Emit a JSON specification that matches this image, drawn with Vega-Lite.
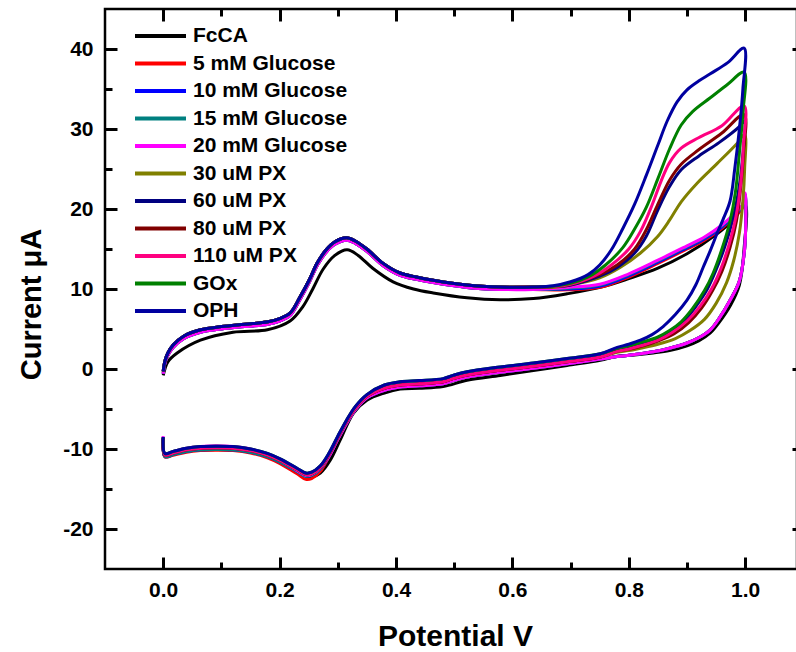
{
"$schema":"https://vega.github.io/schema/vega-lite/v6.json",
"width":692,"height":560,
"autosize":{"type":"none"},
"padding":{"left":105,"top":9,"right":0,"bottom":83},
"background":"white",
"config":{"view":{"stroke":"black","strokeWidth":2.5},
"axis":{"grid":false,"domainColor":"black","domainWidth":2.5,"tickColor":"black","tickWidth":3,"labelFont":"Liberation Sans","labelFontWeight":"bold","labelFontSize":21,"labelColor":"black","titleFont":"Liberation Sans","titleFontWeight":"bold","titleColor":"black"}},
"data":{"values":[
{"s":"FcCA","x":0,"y":-0.8},{"s":"FcCA","x":0.003,"y":0.0},{"s":"FcCA","x":0.008,"y":0.9},{"s":"FcCA","x":0.024,"y":2.0},{"s":"FcCA","x":0.064,"y":3.6},{"s":"FcCA","x":0.12,"y":4.6},{"s":"FcCA","x":0.179,"y":4.9},{"s":"FcCA","x":0.218,"y":6.0},{"s":"FcCA","x":0.24,"y":7.8},{"s":"FcCA","x":0.257,"y":10.0},{"s":"FcCA","x":0.275,"y":12.5},{"s":"FcCA","x":0.295,"y":14.2},{"s":"FcCA","x":0.316,"y":14.9},{"s":"FcCA","x":0.335,"y":14.2},{"s":"FcCA","x":0.36,"y":12.6},{"s":"FcCA","x":0.395,"y":10.9},{"s":"FcCA","x":0.43,"y":10.0},{"s":"FcCA","x":0.464,"y":9.5},{"s":"FcCA","x":0.522,"y":8.9},{"s":"FcCA","x":0.579,"y":8.65},{"s":"FcCA","x":0.636,"y":8.8},{"s":"FcCA","x":0.694,"y":9.4},{"s":"FcCA","x":0.751,"y":10.2},{"s":"FcCA","x":0.8,"y":11.3},{"s":"FcCA","x":0.85,"y":12.6},{"s":"FcCA","x":0.9,"y":14.4},{"s":"FcCA","x":0.95,"y":16.8},{"s":"FcCA","x":0.98,"y":18.7},{"s":"FcCA","x":1.0,"y":20.5},
{"s":"FcCA","x":0.998,"y":15},{"s":"FcCA","x":0.99,"y":10.5},{"s":"FcCA","x":0.975,"y":8.0},{"s":"FcCA","x":0.955,"y":5.8},{"s":"FcCA","x":0.94,"y":4.5},{"s":"FcCA","x":0.92,"y":3.5},{"s":"FcCA","x":0.9,"y":2.9},{"s":"FcCA","x":0.87,"y":2.3},{"s":"FcCA","x":0.842,"y":2.0},{"s":"FcCA","x":0.81,"y":1.75},{"s":"FcCA","x":0.78,"y":1.6},{"s":"FcCA","x":0.751,"y":1.1},{"s":"FcCA","x":0.694,"y":0.45},{"s":"FcCA","x":0.636,"y":-0.2},{"s":"FcCA","x":0.579,"y":-0.8},{"s":"FcCA","x":0.522,"y":-1.4},{"s":"FcCA","x":0.481,"y":-2.2},{"s":"FcCA","x":0.44,"y":-2.4},{"s":"FcCA","x":0.407,"y":-2.5},{"s":"FcCA","x":0.38,"y":-3.0},{"s":"FcCA","x":0.35,"y":-3.9},{"s":"FcCA","x":0.327,"y":-5.5},{"s":"FcCA","x":0.304,"y":-8.9},{"s":"FcCA","x":0.287,"y":-11.4},{"s":"FcCA","x":0.27,"y":-13.0},{"s":"FcCA","x":0.255,"y":-13.5},{"s":"FcCA","x":0.245,"y":-13.4},{"s":"FcCA","x":0.23,"y":-12.7},{"s":"FcCA","x":0.2,"y":-11.4},{"s":"FcCA","x":0.179,"y":-10.8},{"s":"FcCA","x":0.15,"y":-10.3},{"s":"FcCA","x":0.12,"y":-10.0},{"s":"FcCA","x":0.09,"y":-9.95},{"s":"FcCA","x":0.064,"y":-10.0},{"s":"FcCA","x":0.04,"y":-10.2},{"s":"FcCA","x":0.017,"y":-10.6},{"s":"FcCA","x":0.003,"y":-10.9},{"s":"FcCA","x":0,"y":-9.0},

{"s":"5 mM Glucose","x":0,"y":-0.6},{"s":"5 mM Glucose","x":0.003,"y":0.7},{"s":"5 mM Glucose","x":0.008,"y":1.7},{"s":"5 mM Glucose","x":0.017,"y":2.7},{"s":"5 mM Glucose","x":0.035,"y":3.8},{"s":"5 mM Glucose","x":0.064,"y":4.6},{"s":"5 mM Glucose","x":0.1,"y":5.0},{"s":"5 mM Glucose","x":0.14,"y":5.3},{"s":"5 mM Glucose","x":0.18,"y":5.6},{"s":"5 mM Glucose","x":0.2,"y":6.0},{"s":"5 mM Glucose","x":0.218,"y":6.7},{"s":"5 mM Glucose","x":0.235,"y":8.7},{"s":"5 mM Glucose","x":0.25,"y":10.7},{"s":"5 mM Glucose","x":0.265,"y":13.0},{"s":"5 mM Glucose","x":0.28,"y":14.6},{"s":"5 mM Glucose","x":0.295,"y":15.6},{"s":"5 mM Glucose","x":0.315,"y":16.1},{"s":"5 mM Glucose","x":0.33,"y":15.7},{"s":"5 mM Glucose","x":0.35,"y":14.7},{"s":"5 mM Glucose","x":0.378,"y":12.9},{"s":"5 mM Glucose","x":0.407,"y":11.7},{"s":"5 mM Glucose","x":0.435,"y":11.2},{"s":"5 mM Glucose","x":0.464,"y":10.8},{"s":"5 mM Glucose","x":0.522,"y":10.2},{"s":"5 mM Glucose","x":0.579,"y":9.95},{"s":"5 mM Glucose","x":0.636,"y":9.95},
{"s":"5 mM Glucose","x":0.694,"y":9.9},{"s":"5 mM Glucose","x":0.75,"y":10.2},{"s":"5 mM Glucose","x":0.8,"y":11.5},{"s":"5 mM Glucose","x":0.85,"y":13.2},{"s":"5 mM Glucose","x":0.9,"y":15.0},{"s":"5 mM Glucose","x":0.93,"y":16.1},{"s":"5 mM Glucose","x":0.96,"y":17.6},{"s":"5 mM Glucose","x":0.98,"y":18.9},{"s":"5 mM Glucose","x":0.995,"y":20.1},{"s":"5 mM Glucose","x":1.0,"y":21.5},
{"s":"5 mM Glucose","x":1.001,"y":19},{"s":"5 mM Glucose","x":0.999,"y":15},{"s":"5 mM Glucose","x":0.99,"y":11},{"s":"5 mM Glucose","x":0.974,"y":8.6},{"s":"5 mM Glucose","x":0.955,"y":6.3},{"s":"5 mM Glucose","x":0.94,"y":4.9},{"s":"5 mM Glucose","x":0.92,"y":3.9},{"s":"5 mM Glucose","x":0.9,"y":3.25},{"s":"5 mM Glucose","x":0.87,"y":2.6},{"s":"5 mM Glucose","x":0.842,"y":2.15},{"s":"5 mM Glucose","x":0.81,"y":1.8},{"s":"5 mM Glucose","x":0.78,"y":1.55},
{"s":"5 mM Glucose","x":0.751,"y":1.25},{"s":"5 mM Glucose","x":0.694,"y":0.65},{"s":"5 mM Glucose","x":0.636,"y":0.1},{"s":"5 mM Glucose","x":0.579,"y":-0.4},{"s":"5 mM Glucose","x":0.522,"y":-1.0},{"s":"5 mM Glucose","x":0.498,"y":-1.45},{"s":"5 mM Glucose","x":0.481,"y":-1.85},{"s":"5 mM Glucose","x":0.44,"y":-2.1},{"s":"5 mM Glucose","x":0.407,"y":-2.25},{"s":"5 mM Glucose","x":0.38,"y":-2.65},{"s":"5 mM Glucose","x":0.35,"y":-3.6},{"s":"5 mM Glucose","x":0.33,"y":-5.1},{"s":"5 mM Glucose","x":0.315,"y":-6.8},{"s":"5 mM Glucose","x":0.3,"y":-8.8},{"s":"5 mM Glucose","x":0.285,"y":-10.9},{"s":"5 mM Glucose","x":0.27,"y":-12.8},{"s":"5 mM Glucose","x":0.255,"y":-13.7},{"s":"5 mM Glucose","x":0.245,"y":-13.8},{"s":"5 mM Glucose","x":0.23,"y":-13.1},{"s":"5 mM Glucose","x":0.2,"y":-11.8},{"s":"5 mM Glucose","x":0.179,"y":-11.1},{"s":"5 mM Glucose","x":0.15,"y":-10.5},{"s":"5 mM Glucose","x":0.12,"y":-10.2},{"s":"5 mM Glucose","x":0.09,"y":-10.15},{"s":"5 mM Glucose","x":0.064,"y":-10.2},{"s":"5 mM Glucose","x":0.04,"y":-10.4},{"s":"5 mM Glucose","x":0.017,"y":-10.8},{"s":"5 mM Glucose","x":0.003,"y":-11.0},{"s":"5 mM Glucose","x":0,"y":-8.8},

{"s":"10 mM Glucose","x":0,"y":-0.6},{"s":"10 mM Glucose","x":0.003,"y":0.7},{"s":"10 mM Glucose","x":0.008,"y":1.7},{"s":"10 mM Glucose","x":0.017,"y":2.7},{"s":"10 mM Glucose","x":0.035,"y":3.8},{"s":"10 mM Glucose","x":0.064,"y":4.6},{"s":"10 mM Glucose","x":0.1,"y":5.0},{"s":"10 mM Glucose","x":0.14,"y":5.3},{"s":"10 mM Glucose","x":0.18,"y":5.6},{"s":"10 mM Glucose","x":0.2,"y":6.0},{"s":"10 mM Glucose","x":0.218,"y":6.7},{"s":"10 mM Glucose","x":0.235,"y":8.7},{"s":"10 mM Glucose","x":0.25,"y":10.7},{"s":"10 mM Glucose","x":0.265,"y":13.0},{"s":"10 mM Glucose","x":0.28,"y":14.6},{"s":"10 mM Glucose","x":0.295,"y":15.6},{"s":"10 mM Glucose","x":0.315,"y":16.1},{"s":"10 mM Glucose","x":0.33,"y":15.7},{"s":"10 mM Glucose","x":0.35,"y":14.7},{"s":"10 mM Glucose","x":0.378,"y":12.9},{"s":"10 mM Glucose","x":0.407,"y":11.7},{"s":"10 mM Glucose","x":0.435,"y":11.2},{"s":"10 mM Glucose","x":0.464,"y":10.8},{"s":"10 mM Glucose","x":0.522,"y":10.2},{"s":"10 mM Glucose","x":0.579,"y":9.95},{"s":"10 mM Glucose","x":0.636,"y":9.95},
{"s":"10 mM Glucose","x":0.694,"y":10.0},{"s":"10 mM Glucose","x":0.75,"y":10.35},{"s":"10 mM Glucose","x":0.8,"y":11.65},{"s":"10 mM Glucose","x":0.85,"y":13.35},{"s":"10 mM Glucose","x":0.9,"y":15.15},{"s":"10 mM Glucose","x":0.93,"y":16.25},{"s":"10 mM Glucose","x":0.96,"y":17.75},{"s":"10 mM Glucose","x":0.98,"y":19.05},{"s":"10 mM Glucose","x":0.995,"y":20.25},{"s":"10 mM Glucose","x":1.0,"y":21.7},
{"s":"10 mM Glucose","x":1.001,"y":19},{"s":"10 mM Glucose","x":0.999,"y":15},{"s":"10 mM Glucose","x":0.99,"y":11},{"s":"10 mM Glucose","x":0.974,"y":8.6},{"s":"10 mM Glucose","x":0.955,"y":6.3},{"s":"10 mM Glucose","x":0.94,"y":4.9},{"s":"10 mM Glucose","x":0.92,"y":3.9},{"s":"10 mM Glucose","x":0.9,"y":3.25},{"s":"10 mM Glucose","x":0.87,"y":2.6},{"s":"10 mM Glucose","x":0.842,"y":2.15},{"s":"10 mM Glucose","x":0.81,"y":1.8},{"s":"10 mM Glucose","x":0.78,"y":1.55},
{"s":"10 mM Glucose","x":0.751,"y":1.25},{"s":"10 mM Glucose","x":0.694,"y":0.65},{"s":"10 mM Glucose","x":0.636,"y":0.1},{"s":"10 mM Glucose","x":0.579,"y":-0.4},{"s":"10 mM Glucose","x":0.522,"y":-1.0},{"s":"10 mM Glucose","x":0.498,"y":-1.45},{"s":"10 mM Glucose","x":0.481,"y":-1.85},{"s":"10 mM Glucose","x":0.44,"y":-2.1},{"s":"10 mM Glucose","x":0.407,"y":-2.25},{"s":"10 mM Glucose","x":0.38,"y":-2.65},{"s":"10 mM Glucose","x":0.35,"y":-3.6},{"s":"10 mM Glucose","x":0.33,"y":-5.1},{"s":"10 mM Glucose","x":0.315,"y":-6.8},{"s":"10 mM Glucose","x":0.3,"y":-8.8},{"s":"10 mM Glucose","x":0.285,"y":-10.9},{"s":"10 mM Glucose","x":0.27,"y":-12.5},{"s":"10 mM Glucose","x":0.255,"y":-13.3},{"s":"10 mM Glucose","x":0.245,"y":-13.4},{"s":"10 mM Glucose","x":0.23,"y":-12.8},{"s":"10 mM Glucose","x":0.2,"y":-11.6},{"s":"10 mM Glucose","x":0.179,"y":-10.95},{"s":"10 mM Glucose","x":0.15,"y":-10.4},{"s":"10 mM Glucose","x":0.12,"y":-10.1},{"s":"10 mM Glucose","x":0.09,"y":-10.05},{"s":"10 mM Glucose","x":0.064,"y":-10.1},{"s":"10 mM Glucose","x":0.04,"y":-10.3},{"s":"10 mM Glucose","x":0.017,"y":-10.7},{"s":"10 mM Glucose","x":0.003,"y":-10.95},{"s":"10 mM Glucose","x":0,"y":-8.7},

{"s":"15 mM Glucose","x":0,"y":-0.6},{"s":"15 mM Glucose","x":0.003,"y":0.7},{"s":"15 mM Glucose","x":0.008,"y":1.7},{"s":"15 mM Glucose","x":0.017,"y":2.7},{"s":"15 mM Glucose","x":0.035,"y":3.8},{"s":"15 mM Glucose","x":0.064,"y":4.6},{"s":"15 mM Glucose","x":0.1,"y":5.0},{"s":"15 mM Glucose","x":0.14,"y":5.3},{"s":"15 mM Glucose","x":0.18,"y":5.6},{"s":"15 mM Glucose","x":0.2,"y":6.0},{"s":"15 mM Glucose","x":0.218,"y":6.7},{"s":"15 mM Glucose","x":0.235,"y":8.7},{"s":"15 mM Glucose","x":0.25,"y":10.7},{"s":"15 mM Glucose","x":0.265,"y":13.0},{"s":"15 mM Glucose","x":0.28,"y":14.6},{"s":"15 mM Glucose","x":0.295,"y":15.6},{"s":"15 mM Glucose","x":0.315,"y":16.1},{"s":"15 mM Glucose","x":0.33,"y":15.7},{"s":"15 mM Glucose","x":0.35,"y":14.7},{"s":"15 mM Glucose","x":0.378,"y":12.9},{"s":"15 mM Glucose","x":0.407,"y":11.7},{"s":"15 mM Glucose","x":0.435,"y":11.2},{"s":"15 mM Glucose","x":0.464,"y":10.8},{"s":"15 mM Glucose","x":0.522,"y":10.2},{"s":"15 mM Glucose","x":0.579,"y":9.95},{"s":"15 mM Glucose","x":0.636,"y":9.95},
{"s":"15 mM Glucose","x":0.694,"y":10.1},{"s":"15 mM Glucose","x":0.75,"y":10.5},{"s":"15 mM Glucose","x":0.8,"y":11.8},{"s":"15 mM Glucose","x":0.85,"y":13.5},{"s":"15 mM Glucose","x":0.9,"y":15.3},{"s":"15 mM Glucose","x":0.93,"y":16.4},{"s":"15 mM Glucose","x":0.96,"y":17.9},{"s":"15 mM Glucose","x":0.98,"y":19.2},{"s":"15 mM Glucose","x":0.995,"y":20.4},{"s":"15 mM Glucose","x":1.0,"y":21.8},
{"s":"15 mM Glucose","x":1.001,"y":19},{"s":"15 mM Glucose","x":0.999,"y":15},{"s":"15 mM Glucose","x":0.99,"y":11},{"s":"15 mM Glucose","x":0.974,"y":8.6},{"s":"15 mM Glucose","x":0.955,"y":6.3},{"s":"15 mM Glucose","x":0.94,"y":4.9},{"s":"15 mM Glucose","x":0.92,"y":3.9},{"s":"15 mM Glucose","x":0.9,"y":3.25},{"s":"15 mM Glucose","x":0.87,"y":2.6},{"s":"15 mM Glucose","x":0.842,"y":2.15},{"s":"15 mM Glucose","x":0.81,"y":1.8},{"s":"15 mM Glucose","x":0.78,"y":1.55},
{"s":"15 mM Glucose","x":0.751,"y":1.25},{"s":"15 mM Glucose","x":0.694,"y":0.65},{"s":"15 mM Glucose","x":0.636,"y":0.1},{"s":"15 mM Glucose","x":0.579,"y":-0.4},{"s":"15 mM Glucose","x":0.522,"y":-1.0},{"s":"15 mM Glucose","x":0.498,"y":-1.45},{"s":"15 mM Glucose","x":0.481,"y":-1.85},{"s":"15 mM Glucose","x":0.44,"y":-2.1},{"s":"15 mM Glucose","x":0.407,"y":-2.25},{"s":"15 mM Glucose","x":0.38,"y":-2.65},{"s":"15 mM Glucose","x":0.35,"y":-3.6},{"s":"15 mM Glucose","x":0.33,"y":-5.1},{"s":"15 mM Glucose","x":0.315,"y":-6.8},{"s":"15 mM Glucose","x":0.3,"y":-8.8},{"s":"15 mM Glucose","x":0.285,"y":-10.9},{"s":"15 mM Glucose","x":0.27,"y":-12.5},{"s":"15 mM Glucose","x":0.255,"y":-13.3},{"s":"15 mM Glucose","x":0.245,"y":-13.4},{"s":"15 mM Glucose","x":0.23,"y":-12.8},{"s":"15 mM Glucose","x":0.2,"y":-11.6},{"s":"15 mM Glucose","x":0.179,"y":-10.95},{"s":"15 mM Glucose","x":0.15,"y":-10.4},{"s":"15 mM Glucose","x":0.12,"y":-10.1},{"s":"15 mM Glucose","x":0.09,"y":-10.05},{"s":"15 mM Glucose","x":0.064,"y":-10.1},{"s":"15 mM Glucose","x":0.04,"y":-10.3},{"s":"15 mM Glucose","x":0.017,"y":-10.7},{"s":"15 mM Glucose","x":0.003,"y":-10.95},{"s":"15 mM Glucose","x":0,"y":-8.7},

{"s":"20 mM Glucose","x":0,"y":-0.6},{"s":"20 mM Glucose","x":0.003,"y":0.7},{"s":"20 mM Glucose","x":0.008,"y":1.7},{"s":"20 mM Glucose","x":0.017,"y":2.7},{"s":"20 mM Glucose","x":0.035,"y":3.8},{"s":"20 mM Glucose","x":0.064,"y":4.6},{"s":"20 mM Glucose","x":0.1,"y":5.0},{"s":"20 mM Glucose","x":0.14,"y":5.3},{"s":"20 mM Glucose","x":0.18,"y":5.6},{"s":"20 mM Glucose","x":0.2,"y":6.0},{"s":"20 mM Glucose","x":0.218,"y":6.7},{"s":"20 mM Glucose","x":0.235,"y":8.7},{"s":"20 mM Glucose","x":0.25,"y":10.7},{"s":"20 mM Glucose","x":0.265,"y":13.0},{"s":"20 mM Glucose","x":0.28,"y":14.6},{"s":"20 mM Glucose","x":0.295,"y":15.6},{"s":"20 mM Glucose","x":0.315,"y":16.1},{"s":"20 mM Glucose","x":0.33,"y":15.7},{"s":"20 mM Glucose","x":0.35,"y":14.7},{"s":"20 mM Glucose","x":0.378,"y":12.9},{"s":"20 mM Glucose","x":0.407,"y":11.7},{"s":"20 mM Glucose","x":0.435,"y":11.2},{"s":"20 mM Glucose","x":0.464,"y":10.8},{"s":"20 mM Glucose","x":0.522,"y":10.2},{"s":"20 mM Glucose","x":0.579,"y":9.95},{"s":"20 mM Glucose","x":0.636,"y":9.95},
{"s":"20 mM Glucose","x":0.694,"y":10.2},{"s":"20 mM Glucose","x":0.75,"y":10.6},{"s":"20 mM Glucose","x":0.8,"y":11.9},{"s":"20 mM Glucose","x":0.85,"y":13.6},{"s":"20 mM Glucose","x":0.9,"y":15.4},{"s":"20 mM Glucose","x":0.93,"y":16.5},{"s":"20 mM Glucose","x":0.96,"y":18.0},{"s":"20 mM Glucose","x":0.98,"y":19.3},{"s":"20 mM Glucose","x":0.995,"y":20.5},{"s":"20 mM Glucose","x":1.0,"y":22.0},
{"s":"20 mM Glucose","x":1.001,"y":19},{"s":"20 mM Glucose","x":0.999,"y":15},{"s":"20 mM Glucose","x":0.99,"y":11},{"s":"20 mM Glucose","x":0.974,"y":8.6},{"s":"20 mM Glucose","x":0.955,"y":6.3},{"s":"20 mM Glucose","x":0.94,"y":4.9},{"s":"20 mM Glucose","x":0.92,"y":3.9},{"s":"20 mM Glucose","x":0.9,"y":3.25},{"s":"20 mM Glucose","x":0.87,"y":2.6},{"s":"20 mM Glucose","x":0.842,"y":2.15},{"s":"20 mM Glucose","x":0.81,"y":1.8},{"s":"20 mM Glucose","x":0.78,"y":1.55},
{"s":"20 mM Glucose","x":0.751,"y":1.25},{"s":"20 mM Glucose","x":0.694,"y":0.65},{"s":"20 mM Glucose","x":0.636,"y":0.1},{"s":"20 mM Glucose","x":0.579,"y":-0.4},{"s":"20 mM Glucose","x":0.522,"y":-1.0},{"s":"20 mM Glucose","x":0.498,"y":-1.45},{"s":"20 mM Glucose","x":0.481,"y":-1.85},{"s":"20 mM Glucose","x":0.44,"y":-2.1},{"s":"20 mM Glucose","x":0.407,"y":-2.25},{"s":"20 mM Glucose","x":0.38,"y":-2.65},{"s":"20 mM Glucose","x":0.35,"y":-3.6},{"s":"20 mM Glucose","x":0.33,"y":-5.1},{"s":"20 mM Glucose","x":0.315,"y":-6.8},{"s":"20 mM Glucose","x":0.3,"y":-8.8},{"s":"20 mM Glucose","x":0.285,"y":-10.9},{"s":"20 mM Glucose","x":0.27,"y":-12.4},{"s":"20 mM Glucose","x":0.255,"y":-13.2},{"s":"20 mM Glucose","x":0.245,"y":-13.3},{"s":"20 mM Glucose","x":0.23,"y":-12.7},{"s":"20 mM Glucose","x":0.2,"y":-11.4},{"s":"20 mM Glucose","x":0.179,"y":-10.7},{"s":"20 mM Glucose","x":0.15,"y":-10.0},{"s":"20 mM Glucose","x":0.12,"y":-9.7},{"s":"20 mM Glucose","x":0.09,"y":-9.6},{"s":"20 mM Glucose","x":0.064,"y":-9.7},{"s":"20 mM Glucose","x":0.04,"y":-9.9},{"s":"20 mM Glucose","x":0.017,"y":-10.3},{"s":"20 mM Glucose","x":0.003,"y":-10.6},{"s":"20 mM Glucose","x":0,"y":-8.4},

{"s":"30 uM PX","x":0,"y":-0.3},{"s":"30 uM PX","x":0.003,"y":1.0},{"s":"30 uM PX","x":0.008,"y":2.0},{"s":"30 uM PX","x":0.017,"y":3.0},{"s":"30 uM PX","x":0.035,"y":4.1},{"s":"30 uM PX","x":0.064,"y":4.9},{"s":"30 uM PX","x":0.1,"y":5.3},{"s":"30 uM PX","x":0.14,"y":5.6},{"s":"30 uM PX","x":0.18,"y":5.9},{"s":"30 uM PX","x":0.2,"y":6.3},{"s":"30 uM PX","x":0.218,"y":7.0},{"s":"30 uM PX","x":0.235,"y":9.0},{"s":"30 uM PX","x":0.25,"y":11.0},{"s":"30 uM PX","x":0.265,"y":13.3},{"s":"30 uM PX","x":0.28,"y":14.9},{"s":"30 uM PX","x":0.295,"y":15.9},{"s":"30 uM PX","x":0.315,"y":16.4},{"s":"30 uM PX","x":0.33,"y":16.0},{"s":"30 uM PX","x":0.35,"y":15.0},{"s":"30 uM PX","x":0.378,"y":13.2},{"s":"30 uM PX","x":0.407,"y":12.0},{"s":"30 uM PX","x":0.435,"y":11.5},{"s":"30 uM PX","x":0.464,"y":11.1},{"s":"30 uM PX","x":0.522,"y":10.5},{"s":"30 uM PX","x":0.579,"y":10.25},{"s":"30 uM PX","x":0.636,"y":10.25},
{"s":"30 uM PX","x":0.67,"y":10.2},{"s":"30 uM PX","x":0.7,"y":10.5},{"s":"30 uM PX","x":0.75,"y":11.4},{"s":"30 uM PX","x":0.785,"y":12.7},{"s":"30 uM PX","x":0.82,"y":14.5},{"s":"30 uM PX","x":0.85,"y":16.6},{"s":"30 uM PX","x":0.87,"y":18.6},{"s":"30 uM PX","x":0.89,"y":20.9},{"s":"30 uM PX","x":0.917,"y":23.2},{"s":"30 uM PX","x":0.952,"y":25.7},{"s":"30 uM PX","x":0.986,"y":28.2},{"s":"30 uM PX","x":0.999,"y":29.3},
{"s":"30 uM PX","x":0.999,"y":25},{"s":"30 uM PX","x":0.996,"y":21},{"s":"30 uM PX","x":0.99,"y":17},{"s":"30 uM PX","x":0.98,"y":13.5},{"s":"30 uM PX","x":0.968,"y":10.8},{"s":"30 uM PX","x":0.95,"y":8.2},{"s":"30 uM PX","x":0.93,"y":6.2},{"s":"30 uM PX","x":0.905,"y":4.8},{"s":"30 uM PX","x":0.88,"y":3.8},{"s":"30 uM PX","x":0.85,"y":3.1},{"s":"30 uM PX","x":0.82,"y":2.6},{"s":"30 uM PX","x":0.8,"y":2.3},{"s":"30 uM PX","x":0.78,"y":2.1},
{"s":"30 uM PX","x":0.751,"y":1.5},{"s":"30 uM PX","x":0.694,"y":0.9},{"s":"30 uM PX","x":0.636,"y":0.35},{"s":"30 uM PX","x":0.579,"y":-0.15},{"s":"30 uM PX","x":0.522,"y":-0.75},{"s":"30 uM PX","x":0.498,"y":-1.2},{"s":"30 uM PX","x":0.481,"y":-1.6},{"s":"30 uM PX","x":0.44,"y":-1.85},{"s":"30 uM PX","x":0.407,"y":-2.0},{"s":"30 uM PX","x":0.38,"y":-2.4},{"s":"30 uM PX","x":0.35,"y":-3.4},{"s":"30 uM PX","x":0.33,"y":-4.9},{"s":"30 uM PX","x":0.315,"y":-6.6},{"s":"30 uM PX","x":0.3,"y":-8.6},{"s":"30 uM PX","x":0.285,"y":-10.7},{"s":"30 uM PX","x":0.27,"y":-12.3},{"s":"30 uM PX","x":0.255,"y":-13.1},{"s":"30 uM PX","x":0.245,"y":-13.2},{"s":"30 uM PX","x":0.23,"y":-12.6},{"s":"30 uM PX","x":0.2,"y":-11.4},{"s":"30 uM PX","x":0.179,"y":-10.75},{"s":"30 uM PX","x":0.15,"y":-10.2},{"s":"30 uM PX","x":0.12,"y":-9.9},{"s":"30 uM PX","x":0.09,"y":-9.85},{"s":"30 uM PX","x":0.064,"y":-9.9},{"s":"30 uM PX","x":0.04,"y":-10.1},{"s":"30 uM PX","x":0.017,"y":-10.5},{"s":"30 uM PX","x":0.003,"y":-10.75},{"s":"30 uM PX","x":0,"y":-8.6},

{"s":"60 uM PX","x":0,"y":-0.3},{"s":"60 uM PX","x":0.003,"y":1.0},{"s":"60 uM PX","x":0.008,"y":2.0},{"s":"60 uM PX","x":0.017,"y":3.0},{"s":"60 uM PX","x":0.035,"y":4.1},{"s":"60 uM PX","x":0.064,"y":4.9},{"s":"60 uM PX","x":0.1,"y":5.3},{"s":"60 uM PX","x":0.14,"y":5.6},{"s":"60 uM PX","x":0.18,"y":5.9},{"s":"60 uM PX","x":0.2,"y":6.3},{"s":"60 uM PX","x":0.218,"y":7.0},{"s":"60 uM PX","x":0.235,"y":9.0},{"s":"60 uM PX","x":0.25,"y":11.0},{"s":"60 uM PX","x":0.265,"y":13.3},{"s":"60 uM PX","x":0.28,"y":14.9},{"s":"60 uM PX","x":0.295,"y":15.9},{"s":"60 uM PX","x":0.315,"y":16.4},{"s":"60 uM PX","x":0.33,"y":16.0},{"s":"60 uM PX","x":0.35,"y":15.0},{"s":"60 uM PX","x":0.378,"y":13.2},{"s":"60 uM PX","x":0.407,"y":12.0},{"s":"60 uM PX","x":0.435,"y":11.5},{"s":"60 uM PX","x":0.464,"y":11.1},{"s":"60 uM PX","x":0.522,"y":10.5},{"s":"60 uM PX","x":0.579,"y":10.25},{"s":"60 uM PX","x":0.636,"y":10.25},
{"s":"60 uM PX","x":0.67,"y":10.3},{"s":"60 uM PX","x":0.7,"y":10.5},{"s":"60 uM PX","x":0.75,"y":11.6},{"s":"60 uM PX","x":0.78,"y":12.7},{"s":"60 uM PX","x":0.81,"y":14.5},{"s":"60 uM PX","x":0.83,"y":16.6},{"s":"60 uM PX","x":0.85,"y":19.9},{"s":"60 uM PX","x":0.87,"y":22.8},{"s":"60 uM PX","x":0.89,"y":24.9},{"s":"60 uM PX","x":0.92,"y":26.6},{"s":"60 uM PX","x":0.955,"y":28.3},{"s":"60 uM PX","x":0.99,"y":30.3},{"s":"60 uM PX","x":0.998,"y":31},
{"s":"60 uM PX","x":0.995,"y":26},{"s":"60 uM PX","x":0.988,"y":22},{"s":"60 uM PX","x":0.978,"y":18.5},{"s":"60 uM PX","x":0.965,"y":15.3},{"s":"60 uM PX","x":0.95,"y":12.4},{"s":"60 uM PX","x":0.935,"y":10.0},{"s":"60 uM PX","x":0.915,"y":7.8},{"s":"60 uM PX","x":0.895,"y":6.0},{"s":"60 uM PX","x":0.87,"y":4.6},{"s":"60 uM PX","x":0.85,"y":3.8},{"s":"60 uM PX","x":0.82,"y":3.0},{"s":"60 uM PX","x":0.8,"y":2.6},{"s":"60 uM PX","x":0.78,"y":2.3},
{"s":"60 uM PX","x":0.751,"y":1.5},{"s":"60 uM PX","x":0.694,"y":0.9},{"s":"60 uM PX","x":0.636,"y":0.35},{"s":"60 uM PX","x":0.579,"y":-0.15},{"s":"60 uM PX","x":0.522,"y":-0.75},{"s":"60 uM PX","x":0.498,"y":-1.2},{"s":"60 uM PX","x":0.481,"y":-1.6},{"s":"60 uM PX","x":0.44,"y":-1.85},{"s":"60 uM PX","x":0.407,"y":-2.0},{"s":"60 uM PX","x":0.38,"y":-2.4},{"s":"60 uM PX","x":0.35,"y":-3.4},{"s":"60 uM PX","x":0.33,"y":-4.9},{"s":"60 uM PX","x":0.315,"y":-6.6},{"s":"60 uM PX","x":0.3,"y":-8.6},{"s":"60 uM PX","x":0.285,"y":-10.7},{"s":"60 uM PX","x":0.27,"y":-12.3},{"s":"60 uM PX","x":0.255,"y":-13.1},{"s":"60 uM PX","x":0.245,"y":-13.2},{"s":"60 uM PX","x":0.23,"y":-12.6},{"s":"60 uM PX","x":0.2,"y":-11.4},{"s":"60 uM PX","x":0.179,"y":-10.75},{"s":"60 uM PX","x":0.15,"y":-10.2},{"s":"60 uM PX","x":0.12,"y":-9.9},{"s":"60 uM PX","x":0.09,"y":-9.85},{"s":"60 uM PX","x":0.064,"y":-9.9},{"s":"60 uM PX","x":0.04,"y":-10.1},{"s":"60 uM PX","x":0.017,"y":-10.5},{"s":"60 uM PX","x":0.003,"y":-10.75},{"s":"60 uM PX","x":0,"y":-8.6},

{"s":"80 uM PX","x":0,"y":-0.3},{"s":"80 uM PX","x":0.003,"y":1.0},{"s":"80 uM PX","x":0.008,"y":2.0},{"s":"80 uM PX","x":0.017,"y":3.0},{"s":"80 uM PX","x":0.035,"y":4.1},{"s":"80 uM PX","x":0.064,"y":4.9},{"s":"80 uM PX","x":0.1,"y":5.3},{"s":"80 uM PX","x":0.14,"y":5.6},{"s":"80 uM PX","x":0.18,"y":5.9},{"s":"80 uM PX","x":0.2,"y":6.3},{"s":"80 uM PX","x":0.218,"y":7.0},{"s":"80 uM PX","x":0.235,"y":9.0},{"s":"80 uM PX","x":0.25,"y":11.0},{"s":"80 uM PX","x":0.265,"y":13.3},{"s":"80 uM PX","x":0.28,"y":14.9},{"s":"80 uM PX","x":0.295,"y":15.9},{"s":"80 uM PX","x":0.315,"y":16.4},{"s":"80 uM PX","x":0.33,"y":16.0},{"s":"80 uM PX","x":0.35,"y":15.0},{"s":"80 uM PX","x":0.378,"y":13.2},{"s":"80 uM PX","x":0.407,"y":12.0},{"s":"80 uM PX","x":0.435,"y":11.5},{"s":"80 uM PX","x":0.464,"y":11.1},{"s":"80 uM PX","x":0.522,"y":10.5},{"s":"80 uM PX","x":0.579,"y":10.25},{"s":"80 uM PX","x":0.636,"y":10.25},
{"s":"80 uM PX","x":0.67,"y":10.3},{"s":"80 uM PX","x":0.7,"y":10.6},{"s":"80 uM PX","x":0.75,"y":11.8},{"s":"80 uM PX","x":0.78,"y":13.0},{"s":"80 uM PX","x":0.81,"y":15.0},{"s":"80 uM PX","x":0.83,"y":17.4},{"s":"80 uM PX","x":0.85,"y":20.6},{"s":"80 uM PX","x":0.87,"y":23.6},{"s":"80 uM PX","x":0.89,"y":25.6},{"s":"80 uM PX","x":0.92,"y":27.4},{"s":"80 uM PX","x":0.96,"y":29.5},{"s":"80 uM PX","x":0.998,"y":31.8},
{"s":"80 uM PX","x":0.997,"y":27},{"s":"80 uM PX","x":0.992,"y":22.5},{"s":"80 uM PX","x":0.985,"y":18.5},{"s":"80 uM PX","x":0.974,"y":15.2},{"s":"80 uM PX","x":0.96,"y":12.2},{"s":"80 uM PX","x":0.944,"y":9.8},{"s":"80 uM PX","x":0.925,"y":7.6},{"s":"80 uM PX","x":0.903,"y":5.8},{"s":"80 uM PX","x":0.878,"y":4.4},{"s":"80 uM PX","x":0.85,"y":3.5},{"s":"80 uM PX","x":0.82,"y":2.8},{"s":"80 uM PX","x":0.8,"y":2.45},{"s":"80 uM PX","x":0.78,"y":2.2},
{"s":"80 uM PX","x":0.751,"y":1.5},{"s":"80 uM PX","x":0.694,"y":0.9},{"s":"80 uM PX","x":0.636,"y":0.35},{"s":"80 uM PX","x":0.579,"y":-0.15},{"s":"80 uM PX","x":0.522,"y":-0.75},{"s":"80 uM PX","x":0.498,"y":-1.2},{"s":"80 uM PX","x":0.481,"y":-1.6},{"s":"80 uM PX","x":0.44,"y":-1.85},{"s":"80 uM PX","x":0.407,"y":-2.0},{"s":"80 uM PX","x":0.38,"y":-2.4},{"s":"80 uM PX","x":0.35,"y":-3.4},{"s":"80 uM PX","x":0.33,"y":-4.9},{"s":"80 uM PX","x":0.315,"y":-6.6},{"s":"80 uM PX","x":0.3,"y":-8.6},{"s":"80 uM PX","x":0.285,"y":-10.7},{"s":"80 uM PX","x":0.27,"y":-12.3},{"s":"80 uM PX","x":0.255,"y":-13.1},{"s":"80 uM PX","x":0.245,"y":-13.2},{"s":"80 uM PX","x":0.23,"y":-12.6},{"s":"80 uM PX","x":0.2,"y":-11.4},{"s":"80 uM PX","x":0.179,"y":-10.75},{"s":"80 uM PX","x":0.15,"y":-10.2},{"s":"80 uM PX","x":0.12,"y":-9.9},{"s":"80 uM PX","x":0.09,"y":-9.85},{"s":"80 uM PX","x":0.064,"y":-9.9},{"s":"80 uM PX","x":0.04,"y":-10.1},{"s":"80 uM PX","x":0.017,"y":-10.5},{"s":"80 uM PX","x":0.003,"y":-10.75},{"s":"80 uM PX","x":0,"y":-8.6},

{"s":"110 uM PX","x":0,"y":-0.3},{"s":"110 uM PX","x":0.003,"y":1.0},{"s":"110 uM PX","x":0.008,"y":2.0},{"s":"110 uM PX","x":0.017,"y":3.0},{"s":"110 uM PX","x":0.035,"y":4.1},{"s":"110 uM PX","x":0.064,"y":4.9},{"s":"110 uM PX","x":0.1,"y":5.3},{"s":"110 uM PX","x":0.14,"y":5.6},{"s":"110 uM PX","x":0.18,"y":5.9},{"s":"110 uM PX","x":0.2,"y":6.3},{"s":"110 uM PX","x":0.218,"y":7.0},{"s":"110 uM PX","x":0.235,"y":9.0},{"s":"110 uM PX","x":0.25,"y":11.0},{"s":"110 uM PX","x":0.265,"y":13.3},{"s":"110 uM PX","x":0.28,"y":14.9},{"s":"110 uM PX","x":0.295,"y":15.9},{"s":"110 uM PX","x":0.315,"y":16.4},{"s":"110 uM PX","x":0.33,"y":16.0},{"s":"110 uM PX","x":0.35,"y":15.0},{"s":"110 uM PX","x":0.378,"y":13.2},{"s":"110 uM PX","x":0.407,"y":12.0},{"s":"110 uM PX","x":0.435,"y":11.5},{"s":"110 uM PX","x":0.464,"y":11.1},{"s":"110 uM PX","x":0.522,"y":10.5},{"s":"110 uM PX","x":0.579,"y":10.25},{"s":"110 uM PX","x":0.636,"y":10.25},
{"s":"110 uM PX","x":0.67,"y":10.3},{"s":"110 uM PX","x":0.7,"y":10.6},{"s":"110 uM PX","x":0.74,"y":11.6},{"s":"110 uM PX","x":0.77,"y":13.0},{"s":"110 uM PX","x":0.8,"y":15.0},{"s":"110 uM PX","x":0.82,"y":17.2},{"s":"110 uM PX","x":0.84,"y":20.5},{"s":"110 uM PX","x":0.855,"y":23.4},{"s":"110 uM PX","x":0.87,"y":25.8},{"s":"110 uM PX","x":0.89,"y":27.6},{"s":"110 uM PX","x":0.92,"y":28.9},{"s":"110 uM PX","x":0.96,"y":30.4},{"s":"110 uM PX","x":0.998,"y":32.9},
{"s":"110 uM PX","x":0.997,"y":28},{"s":"110 uM PX","x":0.992,"y":23},{"s":"110 uM PX","x":0.984,"y":19},{"s":"110 uM PX","x":0.972,"y":15.5},{"s":"110 uM PX","x":0.958,"y":12.5},{"s":"110 uM PX","x":0.942,"y":10},{"s":"110 uM PX","x":0.922,"y":7.8},{"s":"110 uM PX","x":0.9,"y":6.0},{"s":"110 uM PX","x":0.875,"y":4.6},{"s":"110 uM PX","x":0.85,"y":3.6},{"s":"110 uM PX","x":0.82,"y":2.9},{"s":"110 uM PX","x":0.8,"y":2.5},{"s":"110 uM PX","x":0.78,"y":2.2},
{"s":"110 uM PX","x":0.751,"y":1.5},{"s":"110 uM PX","x":0.694,"y":0.9},{"s":"110 uM PX","x":0.636,"y":0.35},{"s":"110 uM PX","x":0.579,"y":-0.15},{"s":"110 uM PX","x":0.522,"y":-0.75},{"s":"110 uM PX","x":0.498,"y":-1.2},{"s":"110 uM PX","x":0.481,"y":-1.6},{"s":"110 uM PX","x":0.44,"y":-1.85},{"s":"110 uM PX","x":0.407,"y":-2.0},{"s":"110 uM PX","x":0.38,"y":-2.4},{"s":"110 uM PX","x":0.35,"y":-3.4},{"s":"110 uM PX","x":0.33,"y":-4.9},{"s":"110 uM PX","x":0.315,"y":-6.6},{"s":"110 uM PX","x":0.3,"y":-8.6},{"s":"110 uM PX","x":0.285,"y":-10.7},{"s":"110 uM PX","x":0.27,"y":-12.3},{"s":"110 uM PX","x":0.255,"y":-13.1},{"s":"110 uM PX","x":0.245,"y":-13.2},{"s":"110 uM PX","x":0.23,"y":-12.6},{"s":"110 uM PX","x":0.2,"y":-11.4},{"s":"110 uM PX","x":0.179,"y":-10.75},{"s":"110 uM PX","x":0.15,"y":-10.2},{"s":"110 uM PX","x":0.12,"y":-9.9},{"s":"110 uM PX","x":0.09,"y":-9.85},{"s":"110 uM PX","x":0.064,"y":-9.9},{"s":"110 uM PX","x":0.04,"y":-10.1},{"s":"110 uM PX","x":0.017,"y":-10.5},{"s":"110 uM PX","x":0.003,"y":-10.75},{"s":"110 uM PX","x":0,"y":-8.6},

{"s":"GOx","x":0,"y":-0.3},{"s":"GOx","x":0.003,"y":1.0},{"s":"GOx","x":0.008,"y":2.0},{"s":"GOx","x":0.017,"y":3.0},{"s":"GOx","x":0.035,"y":4.1},{"s":"GOx","x":0.064,"y":4.9},{"s":"GOx","x":0.1,"y":5.3},{"s":"GOx","x":0.14,"y":5.6},{"s":"GOx","x":0.18,"y":5.9},{"s":"GOx","x":0.2,"y":6.3},{"s":"GOx","x":0.218,"y":7.0},{"s":"GOx","x":0.235,"y":9.0},{"s":"GOx","x":0.25,"y":11.0},{"s":"GOx","x":0.265,"y":13.3},{"s":"GOx","x":0.28,"y":14.9},{"s":"GOx","x":0.295,"y":15.9},{"s":"GOx","x":0.315,"y":16.4},{"s":"GOx","x":0.33,"y":16.0},{"s":"GOx","x":0.35,"y":15.0},{"s":"GOx","x":0.378,"y":13.2},{"s":"GOx","x":0.407,"y":12.0},{"s":"GOx","x":0.435,"y":11.5},{"s":"GOx","x":0.464,"y":11.1},{"s":"GOx","x":0.522,"y":10.5},{"s":"GOx","x":0.579,"y":10.25},{"s":"GOx","x":0.636,"y":10.25},
{"s":"GOx","x":0.67,"y":10.35},{"s":"GOx","x":0.7,"y":10.7},{"s":"GOx","x":0.73,"y":11.5},{"s":"GOx","x":0.76,"y":13.0},{"s":"GOx","x":0.79,"y":15.2},{"s":"GOx","x":0.81,"y":17.5},{"s":"GOx","x":0.83,"y":20.2},{"s":"GOx","x":0.85,"y":23.8},{"s":"GOx","x":0.87,"y":27.5},{"s":"GOx","x":0.89,"y":30.5},{"s":"GOx","x":0.91,"y":32.2},{"s":"GOx","x":0.94,"y":33.9},{"s":"GOx","x":0.97,"y":35.6},{"s":"GOx","x":0.998,"y":37.1},
{"s":"GOx","x":0.996,"y":32},{"s":"GOx","x":0.99,"y":27},{"s":"GOx","x":0.983,"y":22},{"s":"GOx","x":0.974,"y":18.5},{"s":"GOx","x":0.96,"y":15},{"s":"GOx","x":0.945,"y":12},{"s":"GOx","x":0.93,"y":9.8},{"s":"GOx","x":0.91,"y":7.6},{"s":"GOx","x":0.89,"y":5.9},{"s":"GOx","x":0.87,"y":4.8},{"s":"GOx","x":0.85,"y":4.0},{"s":"GOx","x":0.82,"y":3.3},{"s":"GOx","x":0.8,"y":2.9},{"s":"GOx","x":0.78,"y":2.6},
{"s":"GOx","x":0.751,"y":1.9},{"s":"GOx","x":0.694,"y":1.3},{"s":"GOx","x":0.636,"y":0.75},{"s":"GOx","x":0.579,"y":0.25},{"s":"GOx","x":0.522,"y":-0.35},{"s":"GOx","x":0.498,"y":-0.8},{"s":"GOx","x":0.481,"y":-1.2},{"s":"GOx","x":0.44,"y":-1.45},{"s":"GOx","x":0.407,"y":-1.6},{"s":"GOx","x":0.38,"y":-2.0},{"s":"GOx","x":0.35,"y":-3.2},{"s":"GOx","x":0.33,"y":-4.7},{"s":"GOx","x":0.315,"y":-6.4},{"s":"GOx","x":0.3,"y":-8.4},{"s":"GOx","x":0.285,"y":-10.5},{"s":"GOx","x":0.27,"y":-12.1},{"s":"GOx","x":0.255,"y":-12.9},{"s":"GOx","x":0.245,"y":-13.0},{"s":"GOx","x":0.23,"y":-12.4},{"s":"GOx","x":0.2,"y":-11.2},{"s":"GOx","x":0.179,"y":-10.55},{"s":"GOx","x":0.15,"y":-10.0},{"s":"GOx","x":0.12,"y":-9.7},{"s":"GOx","x":0.09,"y":-9.65},{"s":"GOx","x":0.064,"y":-9.7},{"s":"GOx","x":0.04,"y":-9.9},{"s":"GOx","x":0.017,"y":-10.3},{"s":"GOx","x":0.003,"y":-10.55},{"s":"GOx","x":0,"y":-8.5},

{"s":"OPH","x":0,"y":-0.3},{"s":"OPH","x":0.003,"y":1.0},{"s":"OPH","x":0.008,"y":2.0},{"s":"OPH","x":0.017,"y":3.0},{"s":"OPH","x":0.035,"y":4.1},{"s":"OPH","x":0.064,"y":4.9},{"s":"OPH","x":0.1,"y":5.3},{"s":"OPH","x":0.14,"y":5.6},{"s":"OPH","x":0.18,"y":5.9},{"s":"OPH","x":0.2,"y":6.3},{"s":"OPH","x":0.218,"y":7.0},{"s":"OPH","x":0.235,"y":9.0},{"s":"OPH","x":0.25,"y":11.0},{"s":"OPH","x":0.265,"y":13.3},{"s":"OPH","x":0.28,"y":14.9},{"s":"OPH","x":0.295,"y":15.9},{"s":"OPH","x":0.315,"y":16.4},{"s":"OPH","x":0.33,"y":16.0},{"s":"OPH","x":0.35,"y":15.0},{"s":"OPH","x":0.378,"y":13.2},{"s":"OPH","x":0.407,"y":12.0},{"s":"OPH","x":0.435,"y":11.5},{"s":"OPH","x":0.464,"y":11.1},{"s":"OPH","x":0.522,"y":10.5},{"s":"OPH","x":0.579,"y":10.25},{"s":"OPH","x":0.636,"y":10.25},
{"s":"OPH","x":0.67,"y":10.4},{"s":"OPH","x":0.7,"y":10.9},{"s":"OPH","x":0.73,"y":11.8},{"s":"OPH","x":0.75,"y":13.0},{"s":"OPH","x":0.77,"y":14.9},{"s":"OPH","x":0.79,"y":17.6},{"s":"OPH","x":0.81,"y":20.6},{"s":"OPH","x":0.83,"y":24.2},{"s":"OPH","x":0.85,"y":28.0},{"s":"OPH","x":0.866,"y":31.0},{"s":"OPH","x":0.883,"y":33.4},{"s":"OPH","x":0.9,"y":34.9},{"s":"OPH","x":0.92,"y":36.0},{"s":"OPH","x":0.94,"y":36.9},{"s":"OPH","x":0.97,"y":38.3},{"s":"OPH","x":0.998,"y":40.1},
{"s":"OPH","x":0.996,"y":35},{"s":"OPH","x":0.99,"y":30},{"s":"OPH","x":0.982,"y":25},{"s":"OPH","x":0.974,"y":21},{"s":"OPH","x":0.962,"y":18.7},{"s":"OPH","x":0.952,"y":17},{"s":"OPH","x":0.94,"y":14.8},{"s":"OPH","x":0.928,"y":12.75},{"s":"OPH","x":0.915,"y":10.5},{"s":"OPH","x":0.9,"y":8.6},{"s":"OPH","x":0.88,"y":6.8},{"s":"OPH","x":0.859,"y":5.3},{"s":"OPH","x":0.84,"y":4.3},{"s":"OPH","x":0.82,"y":3.6},{"s":"OPH","x":0.8,"y":3.1},{"s":"OPH","x":0.78,"y":2.7},
{"s":"OPH","x":0.751,"y":1.9},{"s":"OPH","x":0.694,"y":1.3},{"s":"OPH","x":0.636,"y":0.75},{"s":"OPH","x":0.579,"y":0.25},{"s":"OPH","x":0.522,"y":-0.35},{"s":"OPH","x":0.498,"y":-0.8},{"s":"OPH","x":0.481,"y":-1.2},{"s":"OPH","x":0.44,"y":-1.45},{"s":"OPH","x":0.407,"y":-1.6},{"s":"OPH","x":0.38,"y":-2.0},{"s":"OPH","x":0.35,"y":-3.2},{"s":"OPH","x":0.33,"y":-4.7},{"s":"OPH","x":0.315,"y":-6.4},{"s":"OPH","x":0.3,"y":-8.4},{"s":"OPH","x":0.285,"y":-10.5},{"s":"OPH","x":0.27,"y":-12.1},{"s":"OPH","x":0.255,"y":-12.9},{"s":"OPH","x":0.245,"y":-13.0},{"s":"OPH","x":0.23,"y":-12.4},{"s":"OPH","x":0.2,"y":-11.2},{"s":"OPH","x":0.179,"y":-10.55},{"s":"OPH","x":0.15,"y":-10.0},{"s":"OPH","x":0.12,"y":-9.7},{"s":"OPH","x":0.09,"y":-9.65},{"s":"OPH","x":0.064,"y":-9.7},{"s":"OPH","x":0.04,"y":-9.9},{"s":"OPH","x":0.017,"y":-10.3},{"s":"OPH","x":0.003,"y":-10.55},{"s":"OPH","x":0,"y":-8.5}
]},
"layer":[
{"mark":{"type":"line","strokeWidth":3,"clip":true,"interpolate":"catmull-rom"},
"encoding":{
"x":{"field":"x","type":"quantitative","scale":{"domain":[-0.1,1.089],"nice":false,"zero":false},
 "axis":{"orient":"bottom","offset":-12,"values":[0,0.2,0.4,0.6,0.8,1.0],"format":".1f","ticks":true,"tickSize":12,"tickColor":"black","tickWidth":3,"domain":false,"labelPadding":10,"zindex":2,"title":"Potential V","titleFontSize":30,"titleX":350,"titleY":88,"titleBaseline":"alphabetic","titleAnchor":"middle","titleAlign":"center"}},
"y":{"field":"y","type":"quantitative","scale":{"domain":[-25,45],"nice":false,"zero":false},
 "axis":{"orient":"left","offset":-12,"values":[-20,-10,0,10,20,30,40],"ticks":true,"tickSize":12,"tickColor":"black","tickWidth":3,"domain":false,"labelPadding":12,"zindex":2,"labelExpr":"datum.value < 0 ? '-' + abs(datum.value) : '' + datum.value","title":"Current μA","titleFontSize":29,"titleX":-77,"titleY":295,"titleBaseline":"alphabetic","titleAngle":-90,"titleAlign":"center"}},
"color":{"field":"s","type":"nominal","sort":null,
 "scale":{"domain":["FcCA","5 mM Glucose","10 mM Glucose","15 mM Glucose","20 mM Glucose","30 uM PX","60 uM PX","80 uM PX","110 uM PX","GOx","OPH"],
  "range":["#000000","#FF0000","#0000FF","#008080","#FF00FF","#808000","#000080","#800000","#FF0080","#008000","#0000A0"]},
 "legend":{"orient":"none","legendX":28,"legendY":16,"title":null,"symbolType":"stroke","symbolSize":2601,"symbolStrokeWidth":4,"labelFont":"Liberation Sans","labelFontWeight":"bold","labelFontSize":21,"labelColor":"black","clipHeight":22,"rowPadding":5.5,"labelOffset":5,"padding":0}},
"order":{"value":null}}},
{"mark":{"type":"line","strokeOpacity":0},
"encoding":{
"x":{"field":"x","type":"quantitative","axis":{"orient":"bottom","values":[0.1,0.3,0.5,0.7,0.9],"labels":false,"domain":false,"ticks":true,"tickSize":-7,"tickColor":"black","tickWidth":3,"zindex":2,"title":null}},
"y":{"field":"y","type":"quantitative","axis":{"orient":"left","values":[-15,-5,5,15,25,35],"labels":false,"domain":false,"ticks":true,"tickSize":-7,"tickColor":"black","tickWidth":3,"zindex":2,"title":null}}}},
{"mark":{"type":"line","strokeOpacity":0},
"encoding":{
"x":{"field":"x","type":"quantitative","axis":{"orient":"top","values":[0,0.2,0.4,0.6,0.8,1.0],"labels":false,"domain":false,"ticks":true,"tickSize":-12,"tickColor":"black","tickWidth":3,"zindex":2,"title":null}},
"y":{"field":"y","type":"quantitative","axis":{"orient":"right","offset":7,"values":[-20,-10,0,10,20,30,40],"labels":false,"domain":false,"ticks":true,"tickSize":-12,"tickColor":"black","tickWidth":3,"zindex":2,"title":null}}}},
{"mark":{"type":"line","strokeOpacity":0},
"encoding":{
"x":{"field":"x","type":"quantitative","axis":{"orient":"top","values":[0.1,0.3,0.5,0.7,0.9],"labels":false,"domain":false,"ticks":true,"tickSize":-7,"tickColor":"black","tickWidth":3,"zindex":2,"title":null}},
"y":{"field":"y","type":"quantitative","axis":{"orient":"right","offset":7,"values":[-15,-5,5,15,25,35],"labels":false,"domain":false,"ticks":true,"tickSize":-7,"tickColor":"black","tickWidth":3,"zindex":2,"title":null}}}}
],
"resolve":{"axis":{"x":"independent","y":"independent"}}
}
